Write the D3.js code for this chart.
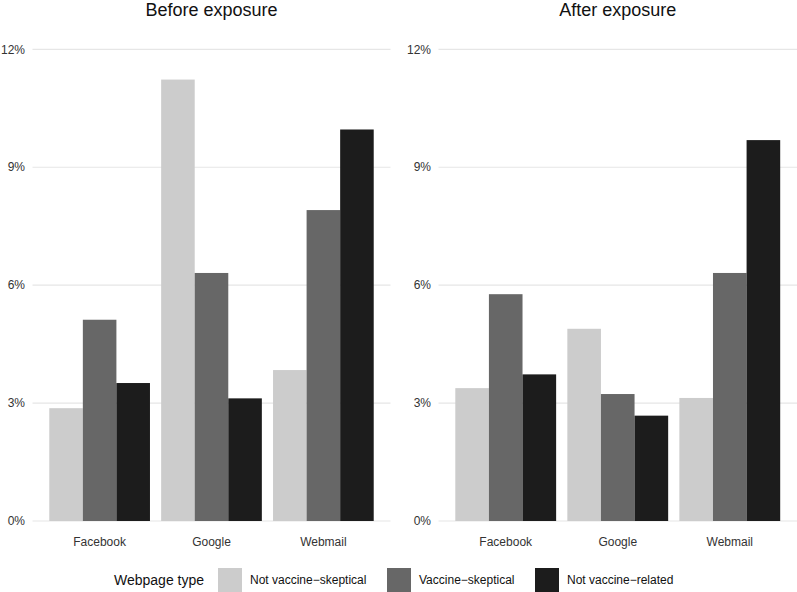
<!DOCTYPE html>
<html>
<head>
<meta charset="utf-8">
<script src="https://cdn.jsdelivr.net/npm/d3@7"></script>
<style>
  html, body { margin: 0; padding: 0; background: #fff; }
  svg { display: block; font-family: "Liberation Sans", Arial, Helvetica, sans-serif; }
</style>
</head>
<body>
<svg id="chart" width="797" height="592"></svg>
<script>
// ---- data ----
const categories = ["Facebook", "Google", "Webmail"];
const seriesNames = ["Not vaccine\u2212skeptical", "Vaccine\u2212skeptical", "Not vaccine\u2212related"];
const seriesColors = ["#cccccc", "#676767", "#1c1c1c"];
const panelTitles = ["Before exposure", "After exposure"];
const yTicks = [0, 3, 6, 9, 12];

// percentages, one array per series (order: Facebook, Google, Webmail)
const beforeNotSkeptical = [2.87, 11.23, 3.84];
const beforeSkeptical    = [5.12, 6.31, 7.91];
const beforeNotRelated   = [3.51, 3.12, 9.96];
const afterNotSkeptical  = [3.38, 4.89, 3.13];
const afterSkeptical     = [5.77, 3.23, 6.31];
const afterNotRelated    = [3.73, 2.68, 9.69];

const panels = [
  { title: panelTitles[0], series: [beforeNotSkeptical, beforeSkeptical, beforeNotRelated] },
  { title: panelTitles[1], series: [afterNotSkeptical, afterSkeptical, afterNotRelated] }
];

// ---- layout ----
const svg = d3.select("#chart");
const panelX = [[32.5, 390.5], [438.5, 797]];
const y = d3.scaleLinear().domain([0, 12]).range([521, 49.3]);

panels.forEach((p, i) => {
  const [x0, x1] = panelX[i];
  const step = (x1 - x0) / 3.2;
  const x = d3.scaleBand().domain(categories)
    .range([x0 + 0.6 * step - step / 2, x1 - 0.6 * step + step / 2])
    .paddingInner(0.1).paddingOuter(0.05);
  // emulate ggplot: band width 0.9 * step, centred on category
  const center = c => x0 + (0.6 + categories.indexOf(c)) * step;
  const groupW = 0.9 * step;
  const sub = d3.scaleBand().domain(d3.range(seriesNames.length)).range([0, groupW]);

  const g = svg.append("g");

  // gridlines
  g.selectAll("line.grid").data(yTicks).join("line")
    .attr("x1", x0).attr("x2", x1)
    .attr("y1", d => y(d)).attr("y2", d => y(d))
    .attr("stroke", "#e6e6e6").attr("stroke-width", 1.2);

  // y labels
  g.selectAll("text.ytick").data(yTicks).join("text")
    .attr("x", x0 - 7.5).attr("y", d => y(d)).attr("dy", "0.35em")
    .attr("text-anchor", "end").attr("font-size", 12).attr("fill", "#333")
    .text(d => d + "%");

  // bars
  p.series.forEach((vals, si) => {
    g.selectAll("rect.s" + si).data(vals).join("rect")
      .attr("x", (d, ci) => center(categories[ci]) - groupW / 2 + sub(si))
      .attr("width", sub.bandwidth())
      .attr("y", d => y(d))
      .attr("height", d => y(0) - y(d))
      .attr("fill", seriesColors[si]);
  });

  // x labels
  g.selectAll("text.xtick").data(categories).join("text")
    .attr("x", d => center(d)).attr("y", 545.5)
    .attr("text-anchor", "middle").attr("font-size", 12).attr("fill", "#333")
    .text(d => d);

  // title
  g.append("text")
    .attr("x", (x0 + x1) / 2).attr("y", 16)
    .attr("text-anchor", "middle").attr("font-size", 18).attr("fill", "#111")
    .text(p.title);
});

// legend
const lg = svg.append("g");
lg.append("text").attr("x", 114).attr("y", 585).attr("font-size", 14).attr("fill", "#111")
  .text("Webpage type");
const keyX = [218, 387, 535];
seriesNames.forEach((s, i) => {
  lg.append("rect").attr("x", keyX[i]).attr("y", 568).attr("width", 24).attr("height", 24)
    .attr("fill", seriesColors[i]);
  lg.append("text").attr("x", keyX[i] + 32).attr("y", 584).attr("font-size", 12).attr("fill", "#111")
    .text(s);
});
</script>
</body>
</html>
